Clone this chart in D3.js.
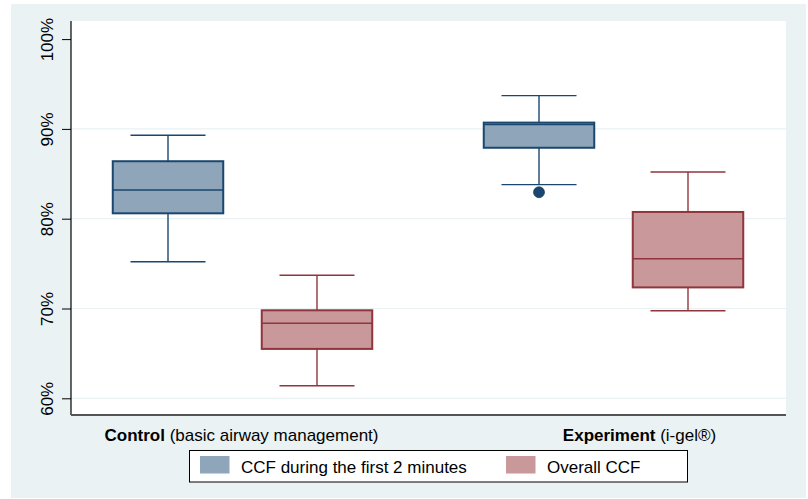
<!DOCTYPE html>
<html><head><meta charset="utf-8">
<script src="https://cdn.jsdelivr.net/npm/d3@7"></script>
<style>body{margin:0;background:#fff}svg{display:block;font-family:"Liberation Sans",Arial,sans-serif}</style>
</head><body><svg id="c" width="808" height="499"></svg>
<script>
const groups = ["Control", "Experiment"];
const groupNotes = ["(basic airway management)", "(i-gel®)"];
const series = ["CCF during the first 2 minutes", "Overall CCF"];
// [lowerWhisker, q1, median, q3, upperWhisker] per group, per series
const ccf2min = [[75.2, 80.6, 83.2, 86.4, 89.3], [83.8, 87.9, 90.5, 90.7, 93.7]];
const overall = [[61.4, 65.5, 68.35, 69.8, 73.7], [69.75, 72.35, 75.55, 80.75, 85.2]];
const outliers2min = [[], [82.95]];
const outliersOverall = [[], []];
const yTicks = [60, 70, 80, 90, 100];

const fills = ["#8fa5b9", "#c8989b"], strokes = ["#1a476f", "#90353b"];
const svg = d3.select("#c");
svg.append("rect").attr("x", 11).attr("y", 4).attr("width", 795).attr("height", 494).attr("fill", "#eaf2f3");
const L = 71, R = 786, T = 21, B = 415;
svg.append("rect").attr("x", L).attr("y", T).attr("width", R - L).attr("height", B - T).attr("fill", "#fff");

const y = d3.scaleLinear().domain([60, 100]).range([398.3, 39.1]);
const x0 = d3.scaleBand().domain(groups).range([57, 799]).paddingInner(0).paddingOuter(0);
const x1 = d3.scaleBand().domain(series).range([0, x0.bandwidth()]).paddingOuter(0.245).paddingInner(0);
const boxW = 110.5, capW = 75;

// gridlines
svg.append("g").selectAll("line").data(yTicks.filter(t => t < 100)).join("line")
  .attr("x1", L).attr("x2", R).attr("y1", d => y(d)).attr("y2", d => y(d))
  .attr("stroke", "#eaf2f3").attr("stroke-width", 1.2);

// y axis
const ya = svg.append("g").attr("transform", `translate(${L},0)`)
  .call(d3.axisLeft(y).tickValues(yTicks).tickSize(9).tickFormat(d => d + "%"));
ya.select(".domain").remove();
ya.selectAll(".tick line").attr("stroke", "#000");
ya.selectAll(".tick text").attr("font-size", 17).attr("fill", "#000")
  .attr("x", null).attr("dy", null).attr("text-anchor", "middle")
  .attr("transform", "translate(-18.5,0) rotate(-90)");
svg.append("line").attr("x1", L).attr("x2", L).attr("y1", T).attr("y2", B).attr("stroke", "#000").attr("stroke-width", 1.2);
svg.append("line").attr("x1", L).attr("x2", R).attr("y1", B).attr("y2", B).attr("stroke", "#555").attr("stroke-width", 1.8);

const seriesData = [ccf2min, overall];
const seriesOut = [outliers2min, outliersOverall];
groups.forEach((g, gi) => {
  series.forEach((s, si) => {
    const v = seriesData[si][gi];
    const cx = x0(g) + x1(s) + x1.bandwidth() / 2;
    const gg = svg.append("g");
    const st = strokes[si];
    gg.append("line").attr("x1", cx).attr("x2", cx).attr("y1", y(v[3])).attr("y2", y(v[4])).attr("stroke", st).attr("stroke-width", 1.4);
    gg.append("line").attr("x1", cx).attr("x2", cx).attr("y1", y(v[1])).attr("y2", y(v[0])).attr("stroke", st).attr("stroke-width", 1.4);
    [v[0], v[4]].forEach(w => gg.append("line").attr("x1", cx - capW / 2).attr("x2", cx + capW / 2)
      .attr("y1", y(w)).attr("y2", y(w)).attr("stroke", st).attr("stroke-width", 1.4));
    gg.append("rect").attr("x", cx - boxW / 2).attr("width", boxW).attr("y", y(v[3])).attr("height", y(v[1]) - y(v[3]))
      .attr("fill", fills[si]).attr("stroke", st).attr("stroke-width", 2);
    gg.append("line").attr("x1", cx - boxW / 2).attr("x2", cx + boxW / 2).attr("y1", y(v[2])).attr("y2", y(v[2])).attr("stroke", st).attr("stroke-width", 1.5);
    seriesOut[si][gi].forEach(o => gg.append("circle").attr("cx", cx).attr("cy", y(o)).attr("r", 5.5).attr("fill", st).attr("stroke", "#0a2a45").attr("stroke-width", 0.6));
  });
});

// group labels
const labelCx = [241.5, 639.5];
groups.forEach((g, gi) => {
  const t = svg.append("text").attr("x", labelCx[gi]).attr("y", 440.5).attr("text-anchor", "middle").attr("font-size", 17).attr("fill", "#000");
  t.append("tspan").attr("font-weight", "bold").text(g);
  t.append("tspan").text(" " + groupNotes[gi]);
});

// legend
svg.append("rect").attr("x", 189.5).attr("y", 450.5).attr("width", 498).attr("height", 31.5).attr("fill", "#fff").attr("stroke", "#000").attr("stroke-width", 1);
const legX = [200, 506];
series.forEach((s, si) => {
  svg.append("rect").attr("x", legX[si]).attr("y", 456).attr("width", 29.5).attr("height", 17.5).attr("fill", fills[si]);
  svg.append("text").attr("x", legX[si] + 41).attr("y", 472.5).attr("font-size", 17).attr("fill", "#000").text(s);
});
</script></body></html>
